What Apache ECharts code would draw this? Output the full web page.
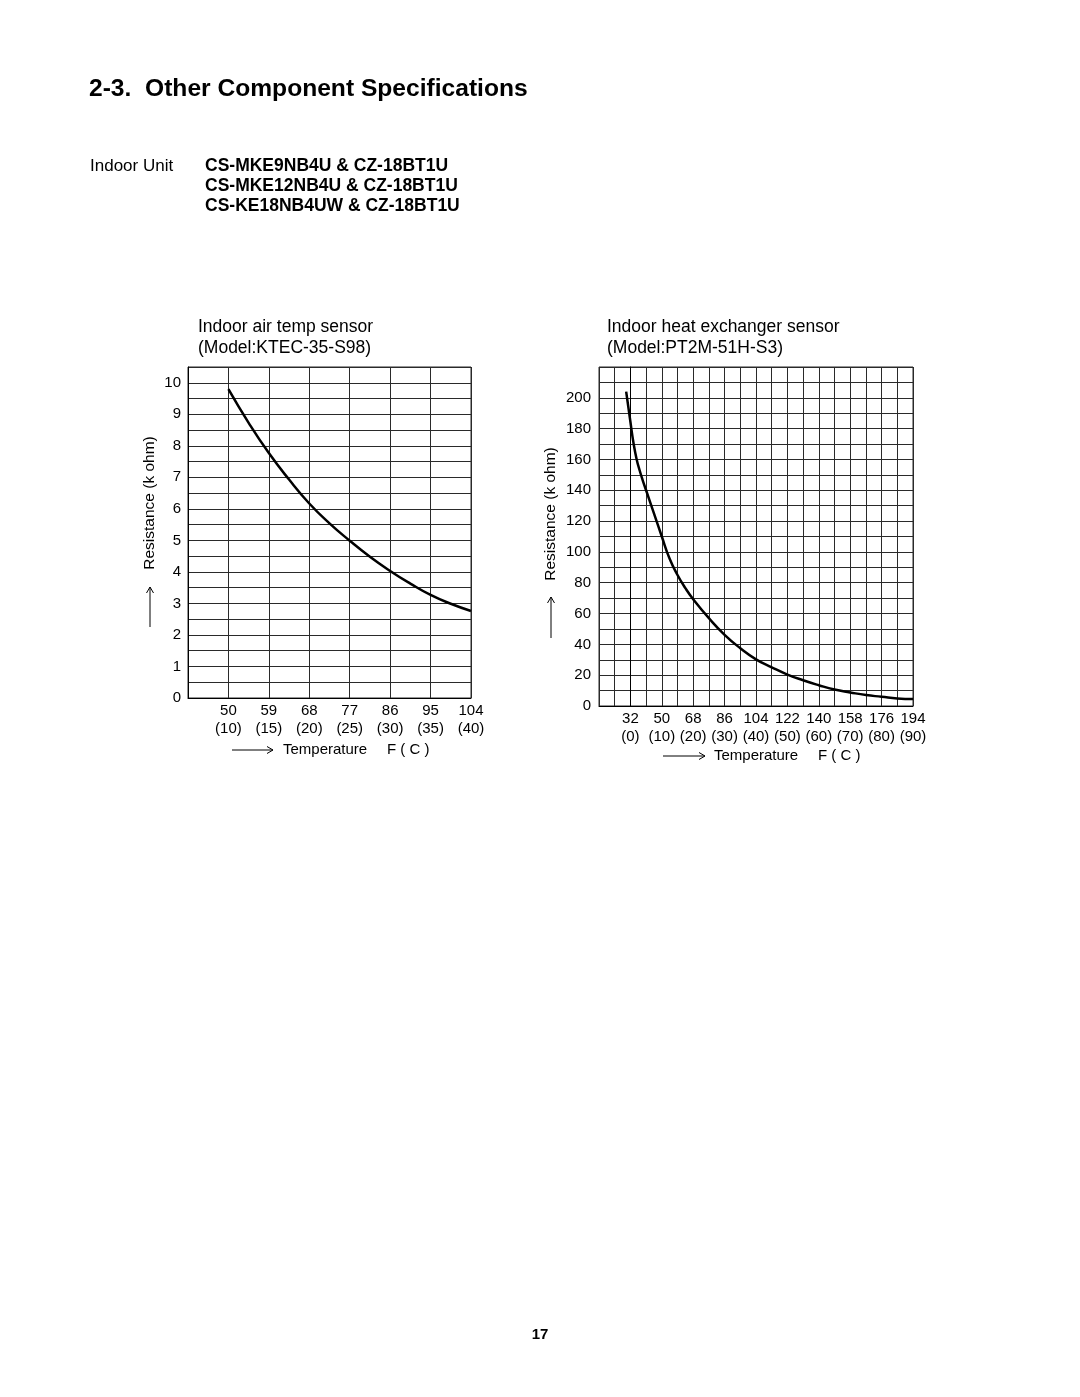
<!DOCTYPE html>
<html>
<head>
<meta charset="utf-8">
<script src="https://cdn.jsdelivr.net/npm/echarts@6/dist/echarts.min.js"></script>
<style>
html,body{margin:0;padding:0;background:#fff;}
#chart{width:1080px;height:1397px;}
</style>
</head>
<body>
<div id="chart"></div>
<script>
// ---- Data ----
// Indoor air temp sensor (KTEC-35-S98): temperature in °C, resistance in kΩ
const airTempC = [10, 12.5, 15, 17.5, 20, 22.5, 25, 27.5, 30, 32.5, 35, 37.5, 40];
const airRes   = [9.8, 8.73, 7.77, 6.93, 6.17, 5.54, 4.99, 4.48, 4.03, 3.63, 3.27, 2.99, 2.76];
// Indoor heat exchanger sensor (PT2M-51H-S3)
const hexTempC = [-1.35, 0, 1, 2, 3, 4, 5, 7.5, 10, 12.5, 15, 17.5, 20, 25, 30, 35, 40, 45, 50, 55, 60, 65, 70, 75, 80, 85, 90];
const hexRes   = [204, 184.5, 170.5, 160, 152.5, 146, 140, 125, 110, 95.5, 85, 76.5, 69.3, 57, 46.2, 37.5, 30.3, 25.1, 20.4, 16.7, 13.5, 10.7, 8.8, 7.1, 6.0, 4.9, 4.5];

// Tick labels
const airTickC = [10, 15, 20, 25, 30, 35, 40];
const airTickF = [50, 59, 68, 77, 86, 95, 104];
const airYTicks = [0, 1, 2, 3, 4, 5, 6, 7, 8, 9, 10];
const hexTickC = [0, 10, 20, 30, 40, 50, 60, 70, 80, 90];
const hexTickF = [32, 50, 68, 86, 104, 122, 140, 158, 176, 194];
const hexYTicks = [0, 20, 40, 60, 80, 100, 120, 140, 160, 180, 200];

// Texts
const pageTitle = '2-3.  Other Component Specifications';
const unitLabel = 'Indoor Unit';
const unitModels = ['CS-MKE9NB4U & CZ-18BT1U', 'CS-MKE12NB4U & CZ-18BT1U', 'CS-KE18NB4UW & CZ-18BT1U'];
const airTitle = ['Indoor air temp sensor', '(Model:KTEC-35-S98)'];
const hexTitle = ['Indoor heat exchanger sensor', '(Model:PT2M-51H-S3)'];
const yName = 'Resistance (k ohm)';
const xName = 'Temperature';
const xUnit = 'F ( C )';
const pageNo = '17';

const FONT = '"Liberation Sans", Arial, Helvetica, sans-serif';
const GRID_COLOR = '#2a2a2a';

function xLabel(tc, tf) {
  return function (v) {
    const i = tc.indexOf(Math.round(v * 100) / 100);
    return i < 0 ? '' : tf[i] + '\n(' + tc[i] + ')';
  };
}
function yLabel(ticks) {
  return function (v) {
    const r = Math.round(v * 100) / 100;
    return ticks.indexOf(r) < 0 ? '' : String(r);
  };
}

const axisLabelBase = { color: '#000', fontSize: 15, fontFamily: FONT };

const chart = echarts.init(document.getElementById('chart'), null, { renderer: 'canvas' });

function txt(x, y, text, opts) {
  opts = opts || {};
  return {
    type: 'text', x: x, y: y, rotation: opts.rotation || 0, silent: true,
    style: {
      text: text,
      font: (opts.weight || 'normal') + ' ' + (opts.size || 15) + 'px ' + FONT,
      fill: '#000',
      textAlign: opts.align || 'left',
      textVerticalAlign: 'middle'
    }
  };
}
function hArrow(x1, x2, y) {
  return [
    { type: 'line', silent: true, shape: { x1: x1, y1: y, x2: x2, y2: y }, style: { stroke: '#000', lineWidth: 1 } },
    { type: 'polyline', silent: true, shape: { points: [[x2 - 6, y - 3.5], [x2, y], [x2 - 6, y + 3.5]] }, style: { stroke: '#000', lineWidth: 1, fill: null } }
  ];
}
function vArrow(x, yBottom, yTop) {
  return [
    { type: 'line', silent: true, shape: { x1: x, y1: yBottom, x2: x, y2: yTop }, style: { stroke: '#000', lineWidth: 1 } },
    { type: 'polyline', silent: true, shape: { points: [[x - 3.5, yTop + 6], [x, yTop], [x + 3.5, yTop + 6]] }, style: { stroke: '#000', lineWidth: 1, fill: null } }
  ];
}

const graphics = [].concat(
  [txt(89, 89, pageTitle, { size: 24.6, weight: 'bold' })],
  [txt(90, 166, unitLabel, { size: 17 })],
  unitModels.map((m, i) => txt(205, 166 + i * 20, m, { size: 17.5, weight: 'bold' })),
  [txt(198, 327, airTitle[0], { size: 17.5 }), txt(198, 348, airTitle[1], { size: 17.5 })],
  [txt(607, 327, hexTitle[0], { size: 17.5 }), txt(607, 348, hexTitle[1], { size: 17.5 })],
  // left chart axis names
  [txt(150, 503, yName, { rotation: Math.PI / 2, align: 'center', size: 15.5 })],
  vArrow(150, 627, 587),
  hArrow(232, 273, 750),
  [txt(283, 750, xName), txt(387, 750, xUnit)],
  // right chart axis names
  [txt(551, 514, yName, { rotation: Math.PI / 2, align: 'center', size: 15.5 })],
  vArrow(551, 638, 597),
  hArrow(663, 705, 756),
  [txt(714, 756, xName), txt(818, 756, xUnit)],
  [txt(540, 1335, pageNo, { size: 15, weight: 'bold', align: 'center' })]
);

function splitLine() {
  return { show: true, lineStyle: { color: GRID_COLOR, width: 1 } };
}

const option = {
  backgroundColor: '#fff',
  animation: false,
  grid: [
    { left: 188, top: 367, width: 283, height: 331, show: true, borderColor: GRID_COLOR, borderWidth: 1, containLabel: false },
    { left: 599, top: 367, width: 314, height: 339, show: true, borderColor: GRID_COLOR, borderWidth: 1, containLabel: false }
  ],
  xAxis: [
    {
      gridIndex: 0, type: 'value', min: 5, max: 40, interval: 5,
      axisLine: { show: true, lineStyle: { color: '#000', width: 1 } },
      axisTick: { show: false },
      splitLine: splitLine(),
      axisLabel: Object.assign({}, axisLabelBase, { margin: 4, lineHeight: 18, formatter: xLabel(airTickC, airTickF), showMinLabel: true, showMaxLabel: true })
    },
    {
      gridIndex: 1, type: 'value', min: -10, max: 90, interval: 5,
      axisLine: { show: true, lineStyle: { color: '#000', width: 1 } },
      axisTick: { show: false },
      splitLine: splitLine(),
      axisLabel: Object.assign({}, axisLabelBase, { margin: 4, lineHeight: 18, formatter: xLabel(hexTickC, hexTickF), showMinLabel: true, showMaxLabel: true, hideOverlap: false })
    }
  ],
  yAxis: [
    {
      gridIndex: 0, type: 'value', min: 0, max: 10.5, interval: 0.5,
      axisLine: { show: true, lineStyle: { color: '#000', width: 1 } },
      axisTick: { show: false },
      splitLine: splitLine(),
      axisLabel: Object.assign({}, axisLabelBase, { margin: 7, formatter: yLabel(airYTicks) })
    },
    {
      gridIndex: 1, type: 'value', min: 0, max: 220, interval: 10,
      axisLine: { show: true, lineStyle: { color: '#000', width: 1 } },
      axisTick: { show: false },
      splitLine: splitLine(),
      axisLabel: Object.assign({}, axisLabelBase, { margin: 8, formatter: yLabel(hexYTicks) })
    }
  ],
  series: [
    {
      type: 'line', xAxisIndex: 0, yAxisIndex: 0, showSymbol: false, symbol: 'none',
      smooth: 0.5,
      lineStyle: { color: '#000', width: 2.5 },
      data: airTempC.map((t, i) => [t, airRes[i]])
    },
    {
      type: 'line', xAxisIndex: 1, yAxisIndex: 1, showSymbol: false, symbol: 'none',
      smooth: 0.5,
      lineStyle: { color: '#000', width: 2.5 },
      data: hexTempC.map((t, i) => [t, hexRes[i]])
    }
  ],
  graphic: graphics
};
chart.setOption(option);
</script>
</body>
</html>
